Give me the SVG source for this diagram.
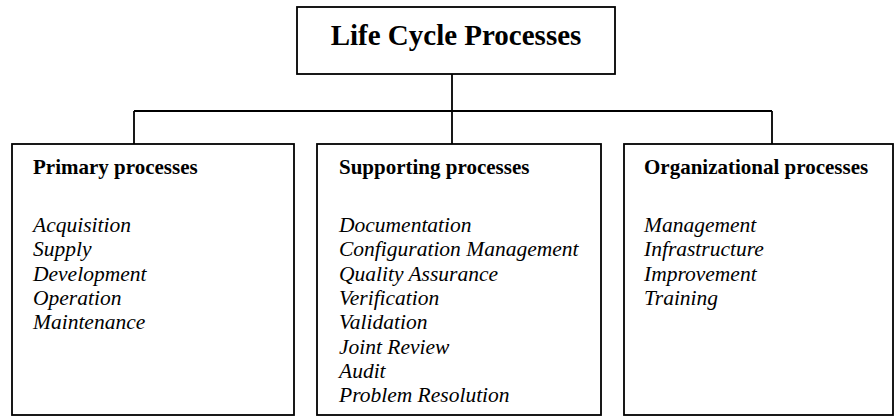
<svg xmlns="http://www.w3.org/2000/svg" width="896" height="417" viewBox="0 0 896 417">
<style>
.box{fill:#fff;stroke:#000;stroke-width:1.8}
.conn{fill:none;stroke:#000;stroke-width:1.8}
.title{font-family:"Liberation Serif","Times New Roman",serif;font-weight:bold;font-size:29px;fill:#000}
.head{font-family:"Liberation Serif","Times New Roman",serif;font-weight:bold;font-size:21px;fill:#000}
.item{font-family:"Liberation Serif","Times New Roman",serif;font-style:italic;font-size:21.5px;fill:#000}
</style>
<rect width="896" height="417" fill="#fff"/>
<g id="connectors">
<path class="conn" d="M452 74 V144 M134 111 H772 M134 111 V144 M772 111 V144"/>
</g>
<g id="root">
<rect class="box" x="297" y="7" width="318" height="67"/>
<text class="title" x="456" y="45" text-anchor="middle">Life Cycle Processes</text>
</g>
<g id="primary">
<rect class="box" x="12" y="144" width="282" height="271"/>
<text class="head" x="33" y="174">Primary processes</text>
<text class="item" x="33" y="232">Acquisition</text>
<text class="item" x="33" y="256.3">Supply</text>
<text class="item" x="33" y="280.6">Development</text>
<text class="item" x="33" y="304.9">Operation</text>
<text class="item" x="33" y="329.2">Maintenance</text>
</g>
<g id="supporting">
<rect class="box" x="317" y="144" width="284" height="271"/>
<text class="head" x="339" y="174">Supporting processes</text>
<text class="item" x="339" y="232">Documentation</text>
<text class="item" x="339" y="256.3">Configuration Management</text>
<text class="item" x="339" y="280.6">Quality Assurance</text>
<text class="item" x="339" y="304.9">Verification</text>
<text class="item" x="339" y="329.2">Validation</text>
<text class="item" x="339" y="353.5">Joint Review</text>
<text class="item" x="339" y="377.8">Audit</text>
<text class="item" x="339" y="402.1">Problem Resolution</text>
</g>
<g id="organizational">
<rect class="box" x="624" y="144" width="269" height="271"/>
<text class="head" x="644" y="174">Organizational processes</text>
<text class="item" x="644" y="232">Management</text>
<text class="item" x="644" y="256.3">Infrastructure</text>
<text class="item" x="644" y="280.6">Improvement</text>
<text class="item" x="644" y="304.9">Training</text>
</g>
</svg>
